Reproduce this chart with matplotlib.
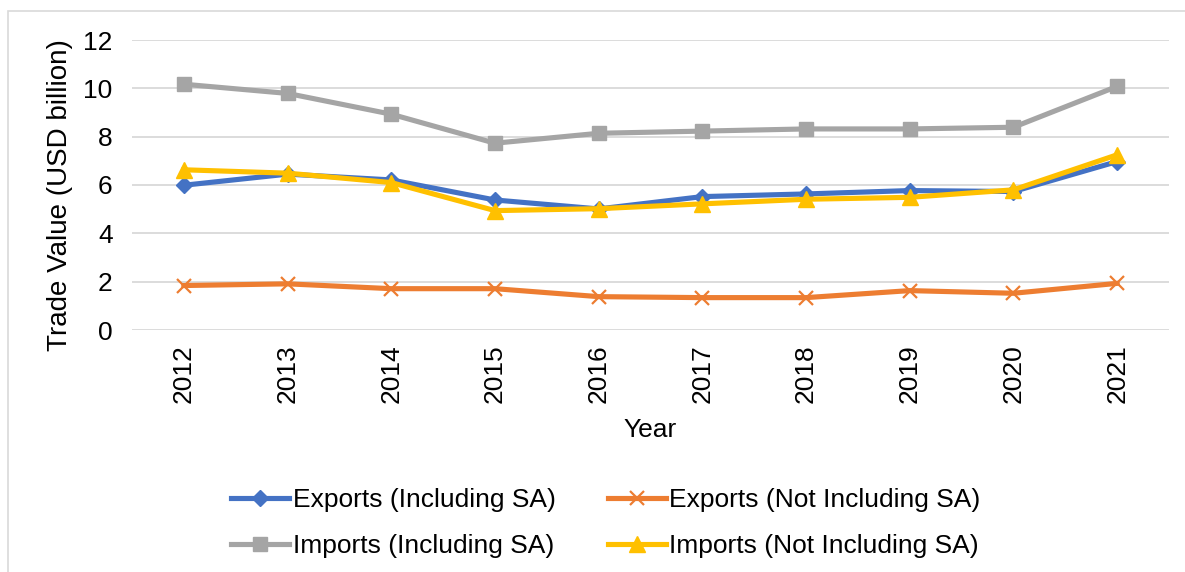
import matplotlib.pyplot as plt
from matplotlib.patches import Rectangle

plt.rcParams['font.family'] = ['Liberation Sans', 'DejaVu Sans']

years = ['2012', '2013', '2014', '2015', '2016', '2017', '2018', '2019', '2020', '2021']
exports_incl_sa = [5.99, 6.45, 6.21, 5.38, 5.01, 5.52, 5.63, 5.77, 5.73, 6.97]
exports_excl_sa = [1.84, 1.91, 1.71, 1.71, 1.38, 1.34, 1.34, 1.63, 1.52, 1.93]
imports_incl_sa = [10.17, 9.79, 8.93, 7.73, 8.14, 8.23, 8.32, 8.32, 8.39, 10.08]
imports_excl_sa = [6.63, 6.49, 6.10, 4.94, 5.02, 5.22, 5.41, 5.49, 5.80, 7.25]

W, H = 1185, 572
fs = 19
fig = plt.figure(figsize=(W / 100, H / 100), dpi=100)

# light frame around the chart area (top and left edges visible)
fig.add_artist(Rectangle((8 / W, -0.1), 1.2, (H - 11) / H + 0.1, transform=fig.transFigure,
                         fill=False, edgecolor='#d9d9d9', linewidth=1.2))

ax = fig.add_axes([132 / W, 1 - 330 / H, (1169 - 132) / W, (330 - 40) / H])

x = range(len(years))
lw = 3.7
ax.plot(x, exports_incl_sa, color='#4472C4', lw=lw, marker='D', ms=8, label='Exports (Including SA)')
ax.plot(x, exports_excl_sa, color='#ED7D31', lw=lw, marker='x', ms=10, mew=1.6, label='Exports (Not Including SA)')
ax.plot(x, imports_incl_sa, color='#A5A5A5', lw=lw, marker='s', ms=10, label='Imports (Including SA)')
ax.plot(x, imports_excl_sa, color='#FFC000', lw=lw, marker='^', ms=11, label='Imports (Not Including SA)')

ax.set_xlim(-0.5, len(years) - 0.5)
ax.set_ylim(0, 12)
ax.set_yticks(range(0, 13, 2))
ax.set_xticks(list(x))
ax.set_xticklabels(years, rotation=90)
ax.tick_params(axis='both', length=0, labelsize=fs, colors='#000000')
ax.tick_params(axis='y', pad=14)
ax.tick_params(axis='x', pad=10)
ax.grid(axis='y', color='#d9d9d9', linewidth=1.3)
ax.set_axisbelow(True)
for s in ax.spines.values():
    s.set_visible(False)

fig.text(650 / W, 1 - 430 / H, 'Year', ha='center', va='center', fontsize=fs)
fig.text(60 / W, 1 - 195 / H, 'Trade Value (USD billion)', ha='center', va='center',
         rotation=90, fontsize=fs + 1)

h, l = ax.get_legend_handles_labels()
order = [0, 2, 1, 3]
leg = fig.legend([h[i] for i in order], [l[i] for i in order], ncol=2,
                 loc='center', bbox_to_anchor=(606 / W, 1 - 523 / H),
                 frameon=False, fontsize=fs, handlelength=2.2, handletextpad=0.12,
                 columnspacing=2.0, labelspacing=0.85, borderpad=0)

fig.savefig('out.png', dpi=100)
